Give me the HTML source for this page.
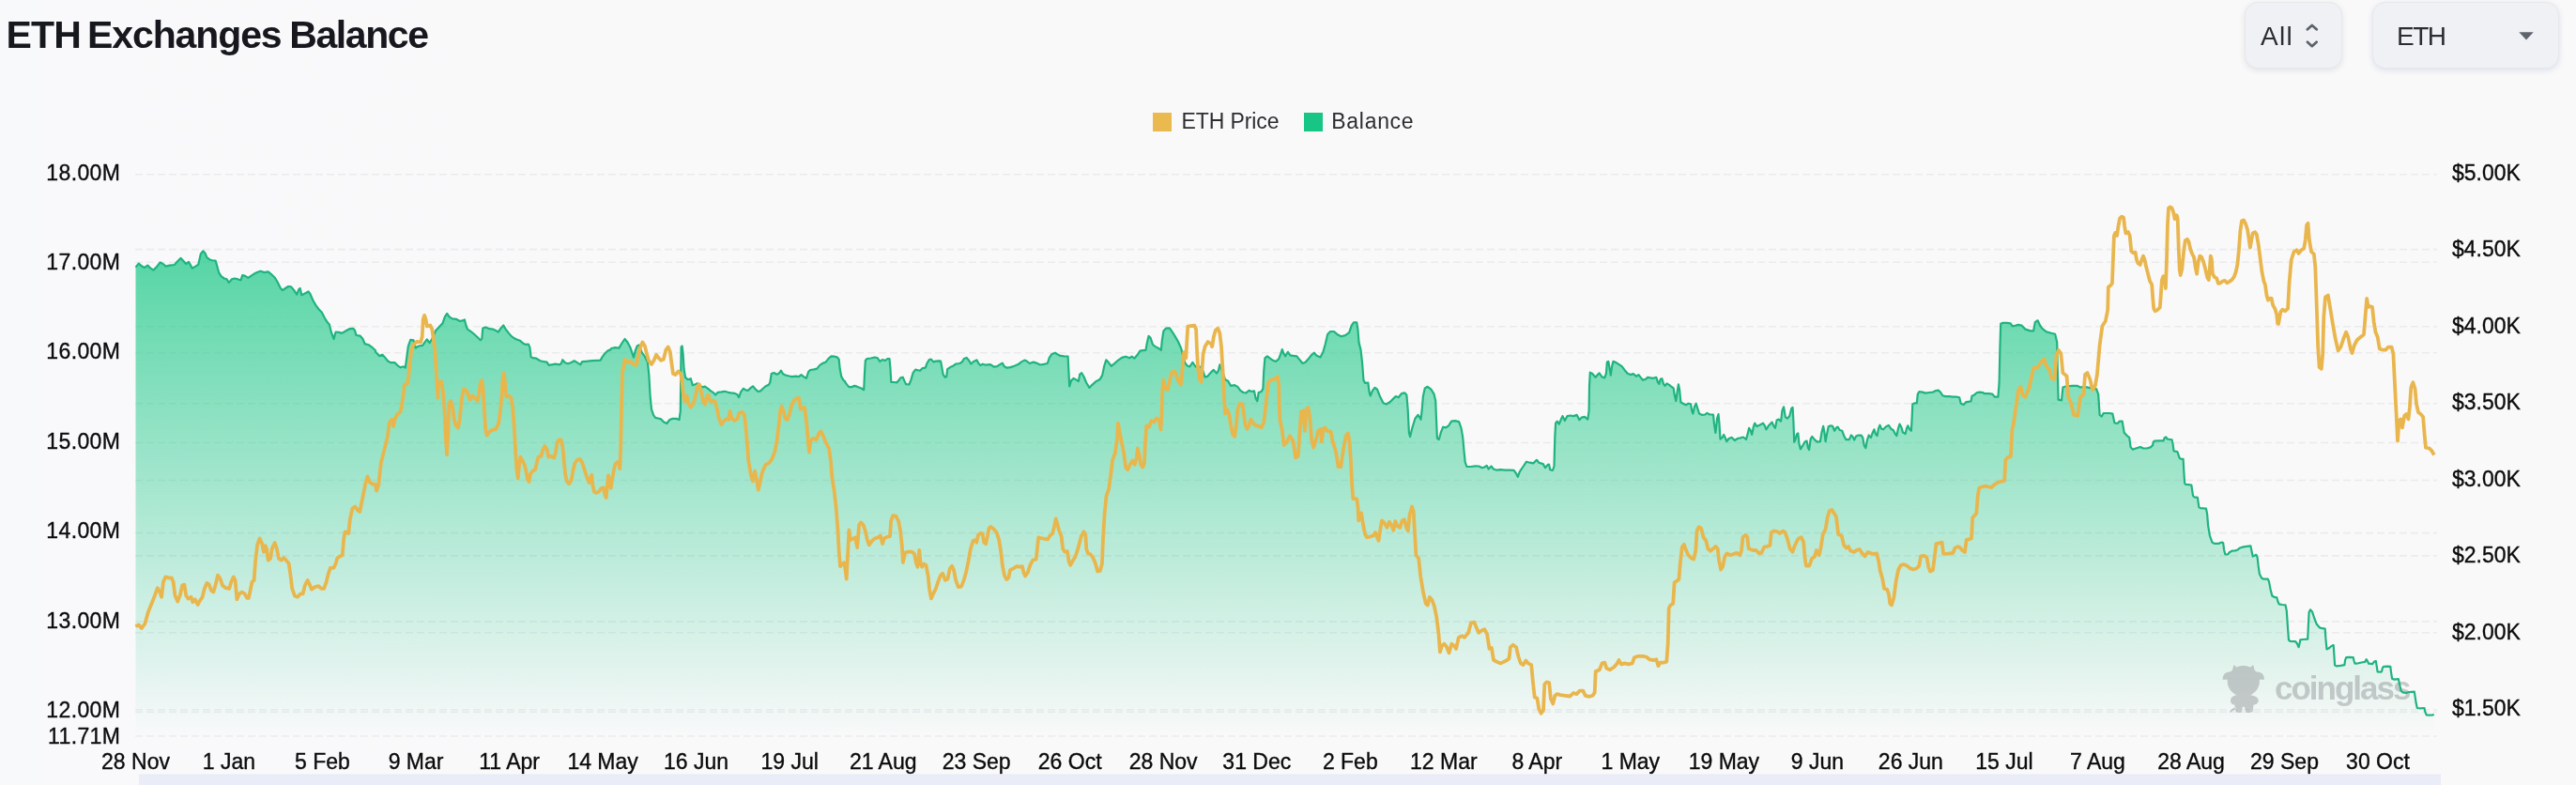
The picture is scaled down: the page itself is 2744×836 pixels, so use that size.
<!DOCTYPE html>
<html lang="en"><head><meta charset="utf-8"><title>ETH Exchanges Balance</title>
<style>
html,body{margin:0;padding:0}
body{width:2744px;height:836px;overflow:hidden;background:linear-gradient(90deg,#f8f9fb 0,#f8f9fb 1.7%,#f9f9fb 1.75%,#f9f9fa 20%,#f9f9f9 50%,#faf9f9 95%,#faf9f9 100%);position:relative;font-family:"Liberation Sans",sans-serif}
h1{position:absolute;left:0;top:12.8px;width:500px;height:48px;margin:0;font-size:41px;line-height:48px;font-weight:700;letter-spacing:0;color:#16181d;white-space:nowrap;will-change:transform}
h1 span{position:absolute;top:0}
.btn{position:absolute;top:2px;height:71px;box-sizing:border-box;border-radius:14px;background:#eff1f5;border:1px solid #e6e8ec;box-shadow:0 2px 6px rgba(60,70,90,.13);color:#2b2d33;font-size:28px}
.btn span{position:absolute;top:20px;line-height:32px;will-change:transform}
#b1{left:2390.5px;width:104.5px}
#b1 span{left:16px;letter-spacing:1.3px}
#b2{left:2526.5px;width:199.5px;box-shadow:0 2px 6px rgba(70,100,190,.17)}
#b2 span{left:25.5px;letter-spacing:-1.5px}
.btn svg{position:absolute}
svg.chart{position:absolute;left:0;top:0}
.ax text{font-size:23px;fill:#0b0b0c;stroke:#0b0b0c;stroke-width:.35px}
</style></head><body>
<h1><span style="left:6.4px;letter-spacing:-.8px">ETH</span> <span style="left:93.1px;letter-spacing:-1.12px">Exchanges</span> <span style="left:308.2px;letter-spacing:-1.4px">Balance</span></h1>
<div class="btn" id="b1"><span>All</span><svg style="left:64px;top:22px" width="16" height="28" viewBox="0 0 16 28"><path d="M1.9 6.3 L6.8 2 L11.7 6.3 M1.9 19.8 L6.8 24.2 L11.7 19.8" fill="none" stroke="#5d6168" stroke-width="2.7" stroke-linecap="round" stroke-linejoin="round"/></svg></div>
<div class="btn" id="b2"><span>ETH</span><svg style="left:155px;top:31px" width="16" height="9" viewBox="0 0 16 9"><path d="M0.3 0.3 H15.7 L8 8.6 Z" fill="#5f636b"/></svg></div>
<svg class="chart" width="2744" height="836" viewBox="0 0 2744 836">
<defs><linearGradient id="ga" gradientUnits="userSpaceOnUse" x1="0" y1="268" x2="0" y2="784.0"><stop offset="0" stop-color="#16c784" stop-opacity=".72"/><stop offset="1" stop-color="#16c784" stop-opacity="0"/></linearGradient></defs>
<g class="legend" font-size="23" fill="#2c2d30"><rect x="1228" y="120" width="20" height="20" fill="#eab950"/><text x="1258.5" y="137" letter-spacing="-0.1">ETH Price</text><rect x="1389" y="120" width="20" height="20" fill="#17c684"/><text x="1418.3" y="137" letter-spacing="0.7">Balance</text></g>

<g stroke="#ebebee" stroke-width="1.6" stroke-dasharray="8 4"><line x1="144.0" x2="2596.0" y1="185.7" y2="185.7"/><line x1="144.0" x2="2596.0" y1="265.6" y2="265.6"/><line x1="144.0" x2="2596.0" y1="279.3" y2="279.3"/><line x1="144.0" x2="2596.0" y1="347.8" y2="347.8"/><line x1="144.0" x2="2596.0" y1="375.8" y2="375.8"/><line x1="144.0" x2="2596.0" y1="429.7" y2="429.7"/><line x1="144.0" x2="2596.0" y1="471.5" y2="471.5"/><line x1="144.0" x2="2596.0" y1="511.5" y2="511.5"/><line x1="144.0" x2="2596.0" y1="567.6" y2="567.6"/><line x1="144.0" x2="2596.0" y1="591.9" y2="591.9"/><line x1="144.0" x2="2596.0" y1="661.9" y2="661.9"/><line x1="144.0" x2="2596.0" y1="673.8" y2="673.8"/><line x1="144.0" x2="2596.0" y1="755.7" y2="755.7"/><line x1="144.0" x2="2596.0" y1="758.3" y2="758.3"/><line x1="144.0" x2="2596.0" y1="784.0" y2="784.0"/></g>
<path d="M144.5,284.6 L147.7,280.6 L151.2,283.6 L153.9,285.0 L157.3,282.6 L160.4,285.7 L163.4,287.7 L166.5,284.6 L170.6,279.5 L173.6,281.0 L176.7,283.6 L180.7,282.6 L185.8,282.0 L188.9,278.5 L192.4,274.9 L195.0,277.5 L198.1,281.0 L201.1,278.9 L204.8,285.7 L208.3,283.6 L211.3,281.6 L213.8,270.4 L216.4,267.3 L218.4,269.4 L220.5,274.4 L223.5,276.5 L226.6,277.5 L229.6,277.5 L231.3,283.6 L233.3,290.7 L235.8,294.4 L238.8,296.5 L241.5,297.3 L243.9,300.9 L247.0,297.3 L250.0,296.5 L253.1,297.3 L256.5,298.5 L258.2,293.2 L261.2,293.8 L264.3,295.8 L267.3,293.8 L270.4,291.8 L274.5,289.7 L277.5,288.7 L281.6,290.1 L285.7,289.3 L288.7,291.8 L292.8,295.8 L295.9,300.9 L298.9,307.0 L301.0,309.1 L304.0,307.0 L307.1,305.0 L310.1,305.4 L313.2,309.1 L316.2,313.6 L318.3,308.1 L319.7,307.0 L321.3,314.2 L324.4,312.8 L328.5,310.5 L330.5,313.2 L333.6,320.3 L336.6,325.4 L339.7,329.5 L342.7,332.5 L345.8,338.6 L348.8,343.3 L350.9,345.8 L352.9,353.9 L355.6,361.0 L357.6,353.5 L361.1,353.9 L364.1,354.9 L368.2,352.5 L372.3,350.2 L376.3,349.8 L378.0,351.9 L379.4,357.0 L383.5,357.6 L386.5,361.0 L388.6,366.1 L392.6,367.2 L396.7,370.2 L400.0,373.3 L400.2,375.0 L404.3,379.1 L407.3,377.7 L410.4,381.1 L413.4,384.8 L416.5,386.2 L420.6,386.2 L423.6,389.3 L426.7,391.3 L429.7,390.3 L431.8,391.7 L433.2,381.1 L434.8,368.9 L437.3,361.8 L440.5,362.4 L442.6,370.5 L446.0,368.5 L450.1,367.9 L454.8,361.4 L457.6,365.2 L460.3,360.7 L463.8,352.6 L468.4,347.5 L471.5,344.4 L473.9,337.3 L476.2,333.9 L478.6,337.3 L481.7,339.4 L485.8,339.8 L489.8,342.0 L492.9,341.4 L494.9,340.4 L496.4,346.5 L498.0,350.6 L501.0,352.6 L504.1,355.0 L508.2,358.7 L511.8,362.2 L513.3,360.7 L514.3,349.5 L517.3,348.5 L521.4,350.2 L525.5,350.6 L528.5,352.2 L530.6,353.6 L533.6,349.5 L536.3,346.5 L538.7,350.6 L541.8,354.6 L544.8,358.1 L547.9,360.3 L551.0,361.8 L554.0,362.8 L557.5,365.8 L560.1,366.9 L562.8,366.5 L564.4,369.9 L565.6,380.1 L567.3,381.1 L571.3,381.7 L575.4,384.2 L579.5,385.2 L582.5,385.6 L584.6,388.9 L587.6,388.3 L591.7,387.6 L595.8,388.3 L597.8,387.2 L599.3,383.2 L601.9,386.2 L605.0,387.2 L608.0,386.2 L611.7,384.2 L614.1,385.6 L618.2,388.3 L620.2,385.2 L624.3,384.8 L630.4,384.2 L636.5,383.8 L639.6,383.6 L641.6,380.1 L644.7,376.0 L647.7,373.4 L650.0,372.6 L651.2,371.0 L655.3,370.2 L659.4,370.6 L662.4,365.5 L665.5,361.0 L668.5,364.4 L671.6,370.6 L673.6,376.7 L675.0,380.7 L676.7,373.6 L678.7,368.5 L680.7,367.5 L683.8,375.7 L686.9,379.7 L689.9,385.8 L691.3,399.1 L692.6,421.5 L694.0,435.8 L696.0,441.9 L698.1,444.9 L701.1,445.5 L704.2,446.4 L707.2,449.6 L710.3,451.0 L713.3,447.0 L716.4,445.9 L720.5,445.9 L723.5,447.0 L724.8,437.8 L725.2,401.1 L725.6,369.5 L726.6,368.5 L727.6,376.7 L728.6,393.0 L730.1,402.1 L732.7,404.2 L735.8,403.2 L737.8,410.3 L740.9,409.3 L742.9,408.3 L748.0,412.3 L751.0,411.7 L754.1,413.8 L757.2,416.4 L760.2,418.4 L762.2,420.5 L764.7,417.8 L768.4,417.4 L772.0,416.8 L775.5,417.8 L778.5,418.4 L782.6,418.9 L785.1,419.9 L787.1,423.1 L789.1,417.4 L791.8,413.8 L794.4,415.4 L796.9,415.8 L799.9,412.9 L802.0,411.3 L804.6,414.4 L807.5,417.0 L810.1,416.4 L812.8,413.8 L815.6,411.3 L818.9,409.7 L820.3,407.2 L821.7,398.1 L824.4,397.0 L827.4,398.7 L829.9,397.5 L831.9,394.6 L834.0,398.1 L836.6,399.5 L840.7,400.5 L843.7,401.1 L847.8,400.7 L850.9,401.1 L853.5,399.1 L856.0,401.1 L859.0,402.8 L861.1,396.0 L863.1,394.0 L867.2,393.4 L870.2,392.6 L873.3,388.9 L876.3,386.9 L879.4,385.8 L882.5,381.8 L885.5,379.3 L888.6,379.7 L891.6,380.3 L893.7,382.8 L894.7,393.0 L896.3,401.1 L898.4,404.8 L900.0,406.2 L901.2,408.4 L904.3,412.1 L907.3,412.1 L910.4,410.9 L913.4,411.9 L917.5,413.5 L920.2,415.2 L921.0,397.2 L921.8,384.0 L923.6,382.0 L927.7,381.5 L931.8,380.5 L934.8,381.3 L937.3,385.0 L939.9,383.0 L943.0,384.0 L945.4,382.0 L947.5,382.0 L948.5,393.2 L949.3,407.0 L952.1,407.0 L955.2,407.4 L957.2,405.4 L959.3,402.3 L961.7,401.7 L963.3,405.4 L965.0,409.1 L968.4,409.5 L970.5,404.4 L972.5,397.2 L975.2,393.6 L977.6,394.2 L980.1,394.8 L982.7,392.1 L985.8,391.7 L987.4,387.0 L989.8,383.0 L991.9,382.6 L994.3,385.4 L997.0,384.6 L1000.0,384.4 L1002.1,384.6 L1003.3,391.1 L1004.5,398.3 L1006.5,401.7 L1008.2,401.3 L1009.2,393.2 L1012.2,391.1 L1015.3,389.7 L1018.4,387.5 L1022.4,387.0 L1024.9,385.4 L1026.9,382.0 L1029.6,380.9 L1032.2,384.0 L1034.3,387.5 L1037.1,385.0 L1040.4,383.4 L1042.4,387.0 L1044.4,389.1 L1046.9,387.7 L1049.9,388.7 L1055.0,388.1 L1058.7,390.7 L1062.2,390.1 L1065.2,388.1 L1067.7,386.6 L1069.7,390.1 L1072.4,391.7 L1076.4,391.1 L1080.5,389.7 L1084.6,388.1 L1088.0,385.4 L1091.3,383.6 L1093.7,384.6 L1096.8,387.0 L1100.9,385.6 L1103.9,386.6 L1108.0,388.5 L1112.1,387.9 L1115.8,387.0 L1117.8,380.9 L1120.2,377.3 L1123.9,375.8 L1126.3,377.3 L1129.4,378.9 L1133.5,379.3 L1137.6,379.5 L1138.4,395.2 L1139.2,411.5 L1141.0,405.4 L1143.7,402.9 L1146.3,404.4 L1148.8,406.0 L1150.0,400.3 L1150.2,398.6 L1152.2,397.2 L1154.3,400.7 L1157.3,407.8 L1160.4,412.9 L1163.4,409.8 L1167.5,406.2 L1171.6,404.1 L1174.2,399.6 L1176.3,389.5 L1178.3,383.3 L1180.7,385.8 L1183.8,389.9 L1186.9,387.4 L1190.9,383.8 L1195.0,380.9 L1199.1,379.7 L1203.2,381.3 L1205.6,379.7 L1208.3,381.7 L1211.3,378.3 L1214.4,373.6 L1217.4,373.2 L1220.5,372.8 L1221.9,365.0 L1223.5,357.9 L1225.6,359.9 L1228.0,367.0 L1230.7,369.1 L1233.7,370.7 L1236.8,372.8 L1237.8,363.0 L1239.4,352.4 L1241.9,349.7 L1245.9,349.3 L1249.0,353.8 L1252.1,358.9 L1255.1,364.0 L1258.2,371.1 L1260.2,379.3 L1262.2,386.4 L1264.7,389.5 L1267.3,390.5 L1270.4,385.8 L1273.5,390.5 L1276.1,391.1 L1279.6,390.5 L1281.6,395.6 L1283.6,401.7 L1286.3,400.7 L1289.8,396.6 L1292.8,393.9 L1295.9,397.6 L1297.9,394.6 L1299.3,388.4 L1302.0,395.6 L1305.0,404.1 L1308.1,405.8 L1311.1,410.9 L1315.2,410.2 L1318.3,411.9 L1321.3,415.9 L1324.4,418.0 L1327.4,418.4 L1330.5,415.9 L1333.6,417.0 L1336.0,416.4 L1337.6,424.1 L1339.3,427.2 L1340.7,418.0 L1343.7,417.0 L1345.4,413.9 L1346.2,395.6 L1347.4,381.3 L1349.9,379.3 L1352.9,381.7 L1356.0,383.8 L1359.0,385.0 L1362.1,382.3 L1364.1,377.2 L1365.8,372.1 L1367.2,376.2 L1369.2,379.3 L1371.9,374.8 L1374.3,378.3 L1377.4,378.9 L1381.4,379.3 L1384.5,383.3 L1387.6,387.0 L1390.6,385.8 L1393.7,382.3 L1396.7,378.3 L1400.0,375.6 L1402.1,378.4 L1406.5,380.4 L1409.4,374.8 L1411.8,366.3 L1414.2,356.1 L1417.1,353.0 L1421.0,353.0 L1425.1,356.6 L1428.7,358.3 L1433.1,357.1 L1437.2,354.2 L1439.6,346.9 L1442.0,343.3 L1445.2,343.3 L1446.4,350.6 L1447.6,365.1 L1449.5,372.4 L1451.0,385.7 L1452.5,405.0 L1454.1,407.9 L1457.3,407.5 L1458.5,417.1 L1459.7,421.5 L1462.1,415.9 L1464.6,412.8 L1467.0,414.7 L1469.9,422.0 L1473.5,429.2 L1476.7,430.5 L1480.8,428.0 L1484.4,424.4 L1486.8,422.0 L1489.7,423.2 L1492.9,419.1 L1496.5,418.4 L1498.4,420.8 L1499.7,436.5 L1500.9,460.7 L1502.1,465.1 L1504.3,455.9 L1507.4,445.7 L1510.6,441.8 L1513.5,446.7 L1514.7,436.5 L1515.9,422.0 L1517.8,413.5 L1520.7,411.8 L1524.4,414.7 L1527.5,419.6 L1529.2,426.8 L1529.9,443.8 L1530.9,466.8 L1532.8,468.0 L1534.8,460.7 L1537.2,454.7 L1540.1,455.4 L1543.0,453.5 L1546.1,448.6 L1549.8,448.1 L1554.1,449.1 L1556.5,455.9 L1558.2,465.6 L1559.5,480.1 L1560.7,492.2 L1562.4,497.0 L1566.7,497.0 L1571.6,496.3 L1575.2,496.5 L1578.8,498.2 L1581.2,497.5 L1583.7,495.8 L1585.6,499.5 L1588.5,496.5 L1590.9,499.5 L1594.6,500.7 L1598.2,500.2 L1603.0,500.7 L1607.9,500.7 L1612.7,500.9 L1615.1,504.3 L1616.8,507.9 L1618.8,502.4 L1622.4,497.0 L1626.0,491.7 L1629.7,492.7 L1633.3,493.4 L1636.9,489.8 L1639.3,492.7 L1643.7,494.1 L1646.1,498.2 L1648.5,495.1 L1650.0,494.6 L1651.2,500.2 L1653.9,501.0 L1655.5,496.5 L1656.3,465.9 L1657.1,450.7 L1658.7,448.6 L1660.8,451.7 L1662.8,446.6 L1664.4,443.1 L1666.9,448.0 L1669.5,443.1 L1672.6,442.5 L1676.3,443.1 L1679.7,441.9 L1682.4,447.2 L1684.8,444.6 L1687.9,443.9 L1691.3,446.6 L1692.6,437.4 L1693.0,410.9 L1693.8,396.7 L1696.0,397.7 L1699.5,401.8 L1702.1,398.7 L1703.6,397.3 L1706.2,401.2 L1709.3,402.4 L1710.9,397.7 L1711.9,385.5 L1713.3,384.9 L1714.6,392.6 L1715.8,399.7 L1717.0,390.6 L1718.4,384.9 L1721.5,386.1 L1724.6,388.1 L1727.6,390.2 L1730.7,394.2 L1733.7,397.7 L1736.8,399.1 L1739.8,398.1 L1742.9,400.7 L1745.5,399.1 L1748.0,402.4 L1750.0,404.8 L1753.1,403.8 L1755.1,401.8 L1758.2,402.4 L1761.2,402.8 L1764.3,401.8 L1765.9,406.9 L1767.3,408.9 L1768.8,403.8 L1770.4,403.2 L1772.0,408.9 L1773.5,410.9 L1775.5,408.5 L1778.1,409.9 L1780.6,412.0 L1782.6,413.4 L1783.8,421.1 L1785.3,427.2 L1786.7,417.0 L1787.9,409.3 L1789.1,415.0 L1790.4,428.3 L1792.8,429.7 L1795.9,431.3 L1798.5,429.7 L1801.0,430.3 L1802.2,437.4 L1803.4,440.5 L1805.0,433.3 L1806.7,429.7 L1808.1,434.4 L1810.1,440.5 L1813.2,441.9 L1816.2,441.5 L1818.3,439.9 L1821.3,441.5 L1825.0,441.5 L1826.0,451.7 L1827.4,460.9 L1829.1,445.6 L1830.5,441.1 L1831.5,451.7 L1832.5,467.6 L1834.6,465.9 L1836.2,462.9 L1837.6,465.9 L1839.3,470.0 L1841.7,467.0 L1844.8,465.9 L1847.8,469.0 L1850.9,467.0 L1853.9,466.4 L1857.0,465.5 L1860.0,468.0 L1861.7,461.9 L1863.1,455.8 L1864.5,457.8 L1866.2,462.9 L1867.8,454.7 L1869.2,450.7 L1871.3,454.1 L1874.3,452.7 L1878.0,450.7 L1880.0,453.7 L1881.4,457.4 L1884.5,452.7 L1887.6,449.6 L1889.6,454.1 L1891.0,455.8 L1892.6,447.6 L1894.7,446.6 L1897.1,448.6 L1898.4,437.4 L1900.0,433.3 L1900.2,433.9 L1901.8,444.1 L1903.9,445.7 L1906.3,443.1 L1908.3,434.9 L1909.6,433.9 L1910.4,448.2 L1911.2,470.6 L1912.4,468.5 L1914.0,462.4 L1915.3,461.4 L1916.5,472.6 L1917.9,478.3 L1920.2,474.7 L1922.6,470.6 L1924.6,469.6 L1925.9,476.7 L1927.1,479.1 L1928.7,467.5 L1930.3,464.9 L1932.8,468.1 L1935.8,470.6 L1938.9,470.2 L1940.5,460.4 L1942.2,453.9 L1943.4,460.4 L1944.6,470.2 L1946.0,462.4 L1947.7,454.3 L1950.1,453.3 L1952.1,453.9 L1954.2,458.8 L1956.2,455.3 L1957.6,454.7 L1959.7,458.0 L1962.3,458.8 L1964.4,464.5 L1966.4,468.1 L1969.9,468.1 L1971.9,463.5 L1973.5,464.9 L1975.2,468.5 L1977.2,464.5 L1979.6,463.5 L1982.7,463.7 L1984.3,466.1 L1985.8,474.7 L1987.4,477.1 L1989.0,468.5 L1990.7,463.5 L1992.9,466.1 L1994.9,460.4 L1996.4,457.3 L1998.0,462.4 L1999.6,464.1 L2001.0,456.3 L2002.5,452.7 L2004.1,456.7 L2006.1,457.3 L2009.2,454.3 L2011.8,452.9 L2014.3,456.7 L2016.7,458.0 L2018.8,462.0 L2020.4,464.1 L2022.0,456.3 L2023.5,451.6 L2025.5,455.3 L2026.9,460.4 L2029.6,462.0 L2031.0,456.3 L2032.2,453.3 L2034.3,457.3 L2035.9,458.8 L2036.7,444.1 L2037.3,430.2 L2039.8,429.4 L2041.8,429.4 L2042.8,419.6 L2044.4,417.2 L2047.9,417.6 L2051.0,418.6 L2055.0,418.0 L2059.1,417.6 L2062.2,416.0 L2064.8,415.6 L2067.3,418.0 L2069.3,421.3 L2072.4,422.1 L2076.4,422.1 L2080.5,422.7 L2084.6,422.7 L2087.2,423.3 L2088.7,429.8 L2091.7,430.9 L2094.2,428.2 L2096.8,427.8 L2099.5,427.4 L2100.5,421.7 L2102.9,420.7 L2106.0,418.0 L2109.0,417.6 L2112.1,418.0 L2114.1,419.2 L2118.2,419.2 L2122.3,419.6 L2124.7,422.7 L2128.4,422.7 L2129.6,407.4 L2130.4,370.7 L2131.2,344.7 L2133.5,343.9 L2137.6,343.9 L2141.6,344.3 L2143.7,347.3 L2146.7,346.9 L2150.0,345.9 L2153.4,346.5 L2157.5,350.6 L2162.7,352.4 L2166.1,352.4 L2167.8,343.1 L2170.6,341.3 L2173.0,346.5 L2175.4,349.9 L2179.9,353.4 L2185.0,354.8 L2189.1,355.8 L2191.2,364.4 L2191.9,398.8 L2192.6,425.6 L2196.0,426.3 L2197.4,412.5 L2200.5,411.5 L2207.4,410.8 L2212.5,410.8 L2216.0,412.5 L2220.1,411.8 L2233.2,414.3 L2235.2,420.1 L2236.6,441.8 L2238.7,443.5 L2240.7,440.0 L2246.9,440.0 L2250.4,440.7 L2252.4,450.4 L2255.5,451.0 L2257.9,448.6 L2260.7,448.6 L2262.7,460.7 L2265.8,464.1 L2268.2,465.8 L2269.6,476.1 L2271.7,478.6 L2276.1,477.2 L2279.6,476.1 L2280.0,475.9 L2283.1,477.5 L2286.9,477.5 L2290.7,476.4 L2293.0,474.4 L2293.8,470.6 L2295.3,469.5 L2299.9,469.4 L2304.5,469.4 L2305.7,466.3 L2307.2,465.5 L2308.7,467.5 L2311.3,468.0 L2313.6,468.4 L2314.6,472.9 L2315.5,480.1 L2316.7,480.7 L2319.4,481.0 L2320.5,484.3 L2321.6,487.7 L2322.8,488.6 L2325.6,488.9 L2326.3,501.2 L2327.1,514.2 L2328.2,516.0 L2331.2,516.1 L2334.3,516.5 L2335.0,521.0 L2336.0,527.9 L2337.3,529.4 L2340.9,529.9 L2341.6,534.8 L2342.4,540.2 L2343.9,541.2 L2347.3,541.4 L2350.0,541.7 L2351.1,547.1 L2352.1,559.6 L2353.9,570.3 L2356.4,577.5 L2358.7,578.9 L2363.2,578.9 L2366.8,577.5 L2368.2,578.3 L2369.1,585.5 L2370.3,590.3 L2373.0,590.5 L2374.8,588.2 L2377.5,586.7 L2381.0,586.4 L2383.7,585.5 L2385.5,583.7 L2389.9,582.4 L2393.5,581.9 L2397.4,581.4 L2398.5,586.7 L2399.7,592.6 L2401.5,591.7 L2403.3,590.8 L2404.6,593.5 L2405.6,602.4 L2406.9,611.3 L2409.2,615.8 L2411.3,616.7 L2415.8,616.7 L2417.0,619.4 L2418.5,627.4 L2420.3,634.5 L2422.4,635.8 L2425.3,636.3 L2426.5,640.8 L2427.7,643.4 L2431.0,644.0 L2434.5,644.3 L2435.8,650.6 L2436.8,665.7 L2438.0,681.7 L2439.8,683.0 L2445.2,683.2 L2446.9,685.3 L2448.6,689.2 L2449.6,685.3 L2450.3,681.4 L2453.2,681.0 L2458.2,680.7 L2458.9,665.7 L2459.6,652.3 L2461.0,649.3 L2463.0,651.4 L2465.3,658.5 L2467.8,664.8 L2471.0,668.4 L2473.7,669.2 L2476.7,669.6 L2477.4,679.9 L2478.5,691.5 L2480.8,690.3 L2483.5,688.0 L2485.7,687.1 L2486.4,697.8 L2487.1,708.5 L2489.2,709.4 L2493.3,708.8 L2497.4,708.1 L2498.1,703.1 L2499.2,700.1 L2502.2,699.9 L2506.7,700.1 L2507.6,704.0 L2508.5,706.7 L2512.1,706.3 L2515.6,705.5 L2519.2,704.9 L2520.6,702.2 L2521.9,704.0 L2523.1,706.7 L2527.2,707.1 L2529.0,704.6 L2530.8,704.0 L2531.7,709.4 L2532.6,715.3 L2535.2,715.6 L2537.0,715.3 L2537.9,711.2 L2539.2,709.9 L2543.3,709.7 L2546.3,709.9 L2547.0,715.6 L2548.1,722.8 L2550.4,723.6 L2554.9,723.1 L2555.9,728.1 L2557.5,735.2 L2559.3,737.4 L2562.9,737.9 L2566.5,737.0 L2571.8,736.7 L2572.7,742.4 L2573.6,748.6 L2574.8,754.0 L2578.1,754.3 L2582.5,754.0 L2583.4,758.4 L2584.8,761.5 L2587.9,761.6 L2591.4,761.5 L2592.7,760.8 L2592.7,784.0 L144.5,784.0 Z" fill="url(#ga)"/>
<g class="wm" fill="#909497" opacity=".47"><g transform="translate(2355,700) scale(0.0892)"><ellipse cx="390" cy="285" rx="192" ry="185"/><path d="M255,170 L272,92 Q300,100 312,130 L300,170 Z M525,170 L508,92 Q480,100 468,130 L480,170 Z M140,265 Q140,175 235,170 L262,265 Z M640,265 Q640,175 545,170 L518,265 Z M235,520 Q235,470 300,452 L480,452 Q570,470 570,520 Q560,560 510,570 L500,650 Q460,672 420,655 L402,590 L378,590 L370,655 Q330,672 300,650 L285,570 Q240,560 235,520 Z M292,598 Q250,610 218,655 L240,657 Q270,628 302,616 Z"/></g><text x="2423" y="745.2" font-size="35" font-weight="700" letter-spacing="-2">coinglass</text></g>
<path d="M144.5,284.6 L147.7,280.6 L151.2,283.6 L153.9,285.0 L157.3,282.6 L160.4,285.7 L163.4,287.7 L166.5,284.6 L170.6,279.5 L173.6,281.0 L176.7,283.6 L180.7,282.6 L185.8,282.0 L188.9,278.5 L192.4,274.9 L195.0,277.5 L198.1,281.0 L201.1,278.9 L204.8,285.7 L208.3,283.6 L211.3,281.6 L213.8,270.4 L216.4,267.3 L218.4,269.4 L220.5,274.4 L223.5,276.5 L226.6,277.5 L229.6,277.5 L231.3,283.6 L233.3,290.7 L235.8,294.4 L238.8,296.5 L241.5,297.3 L243.9,300.9 L247.0,297.3 L250.0,296.5 L253.1,297.3 L256.5,298.5 L258.2,293.2 L261.2,293.8 L264.3,295.8 L267.3,293.8 L270.4,291.8 L274.5,289.7 L277.5,288.7 L281.6,290.1 L285.7,289.3 L288.7,291.8 L292.8,295.8 L295.9,300.9 L298.9,307.0 L301.0,309.1 L304.0,307.0 L307.1,305.0 L310.1,305.4 L313.2,309.1 L316.2,313.6 L318.3,308.1 L319.7,307.0 L321.3,314.2 L324.4,312.8 L328.5,310.5 L330.5,313.2 L333.6,320.3 L336.6,325.4 L339.7,329.5 L342.7,332.5 L345.8,338.6 L348.8,343.3 L350.9,345.8 L352.9,353.9 L355.6,361.0 L357.6,353.5 L361.1,353.9 L364.1,354.9 L368.2,352.5 L372.3,350.2 L376.3,349.8 L378.0,351.9 L379.4,357.0 L383.5,357.6 L386.5,361.0 L388.6,366.1 L392.6,367.2 L396.7,370.2 L400.0,373.3 L400.2,375.0 L404.3,379.1 L407.3,377.7 L410.4,381.1 L413.4,384.8 L416.5,386.2 L420.6,386.2 L423.6,389.3 L426.7,391.3 L429.7,390.3 L431.8,391.7 L433.2,381.1 L434.8,368.9 L437.3,361.8 L440.5,362.4 L442.6,370.5 L446.0,368.5 L450.1,367.9 L454.8,361.4 L457.6,365.2 L460.3,360.7 L463.8,352.6 L468.4,347.5 L471.5,344.4 L473.9,337.3 L476.2,333.9 L478.6,337.3 L481.7,339.4 L485.8,339.8 L489.8,342.0 L492.9,341.4 L494.9,340.4 L496.4,346.5 L498.0,350.6 L501.0,352.6 L504.1,355.0 L508.2,358.7 L511.8,362.2 L513.3,360.7 L514.3,349.5 L517.3,348.5 L521.4,350.2 L525.5,350.6 L528.5,352.2 L530.6,353.6 L533.6,349.5 L536.3,346.5 L538.7,350.6 L541.8,354.6 L544.8,358.1 L547.9,360.3 L551.0,361.8 L554.0,362.8 L557.5,365.8 L560.1,366.9 L562.8,366.5 L564.4,369.9 L565.6,380.1 L567.3,381.1 L571.3,381.7 L575.4,384.2 L579.5,385.2 L582.5,385.6 L584.6,388.9 L587.6,388.3 L591.7,387.6 L595.8,388.3 L597.8,387.2 L599.3,383.2 L601.9,386.2 L605.0,387.2 L608.0,386.2 L611.7,384.2 L614.1,385.6 L618.2,388.3 L620.2,385.2 L624.3,384.8 L630.4,384.2 L636.5,383.8 L639.6,383.6 L641.6,380.1 L644.7,376.0 L647.7,373.4 L650.0,372.6 L651.2,371.0 L655.3,370.2 L659.4,370.6 L662.4,365.5 L665.5,361.0 L668.5,364.4 L671.6,370.6 L673.6,376.7 L675.0,380.7 L676.7,373.6 L678.7,368.5 L680.7,367.5 L683.8,375.7 L686.9,379.7 L689.9,385.8 L691.3,399.1 L692.6,421.5 L694.0,435.8 L696.0,441.9 L698.1,444.9 L701.1,445.5 L704.2,446.4 L707.2,449.6 L710.3,451.0 L713.3,447.0 L716.4,445.9 L720.5,445.9 L723.5,447.0 L724.8,437.8 L725.2,401.1 L725.6,369.5 L726.6,368.5 L727.6,376.7 L728.6,393.0 L730.1,402.1 L732.7,404.2 L735.8,403.2 L737.8,410.3 L740.9,409.3 L742.9,408.3 L748.0,412.3 L751.0,411.7 L754.1,413.8 L757.2,416.4 L760.2,418.4 L762.2,420.5 L764.7,417.8 L768.4,417.4 L772.0,416.8 L775.5,417.8 L778.5,418.4 L782.6,418.9 L785.1,419.9 L787.1,423.1 L789.1,417.4 L791.8,413.8 L794.4,415.4 L796.9,415.8 L799.9,412.9 L802.0,411.3 L804.6,414.4 L807.5,417.0 L810.1,416.4 L812.8,413.8 L815.6,411.3 L818.9,409.7 L820.3,407.2 L821.7,398.1 L824.4,397.0 L827.4,398.7 L829.9,397.5 L831.9,394.6 L834.0,398.1 L836.6,399.5 L840.7,400.5 L843.7,401.1 L847.8,400.7 L850.9,401.1 L853.5,399.1 L856.0,401.1 L859.0,402.8 L861.1,396.0 L863.1,394.0 L867.2,393.4 L870.2,392.6 L873.3,388.9 L876.3,386.9 L879.4,385.8 L882.5,381.8 L885.5,379.3 L888.6,379.7 L891.6,380.3 L893.7,382.8 L894.7,393.0 L896.3,401.1 L898.4,404.8 L900.0,406.2 L901.2,408.4 L904.3,412.1 L907.3,412.1 L910.4,410.9 L913.4,411.9 L917.5,413.5 L920.2,415.2 L921.0,397.2 L921.8,384.0 L923.6,382.0 L927.7,381.5 L931.8,380.5 L934.8,381.3 L937.3,385.0 L939.9,383.0 L943.0,384.0 L945.4,382.0 L947.5,382.0 L948.5,393.2 L949.3,407.0 L952.1,407.0 L955.2,407.4 L957.2,405.4 L959.3,402.3 L961.7,401.7 L963.3,405.4 L965.0,409.1 L968.4,409.5 L970.5,404.4 L972.5,397.2 L975.2,393.6 L977.6,394.2 L980.1,394.8 L982.7,392.1 L985.8,391.7 L987.4,387.0 L989.8,383.0 L991.9,382.6 L994.3,385.4 L997.0,384.6 L1000.0,384.4 L1002.1,384.6 L1003.3,391.1 L1004.5,398.3 L1006.5,401.7 L1008.2,401.3 L1009.2,393.2 L1012.2,391.1 L1015.3,389.7 L1018.4,387.5 L1022.4,387.0 L1024.9,385.4 L1026.9,382.0 L1029.6,380.9 L1032.2,384.0 L1034.3,387.5 L1037.1,385.0 L1040.4,383.4 L1042.4,387.0 L1044.4,389.1 L1046.9,387.7 L1049.9,388.7 L1055.0,388.1 L1058.7,390.7 L1062.2,390.1 L1065.2,388.1 L1067.7,386.6 L1069.7,390.1 L1072.4,391.7 L1076.4,391.1 L1080.5,389.7 L1084.6,388.1 L1088.0,385.4 L1091.3,383.6 L1093.7,384.6 L1096.8,387.0 L1100.9,385.6 L1103.9,386.6 L1108.0,388.5 L1112.1,387.9 L1115.8,387.0 L1117.8,380.9 L1120.2,377.3 L1123.9,375.8 L1126.3,377.3 L1129.4,378.9 L1133.5,379.3 L1137.6,379.5 L1138.4,395.2 L1139.2,411.5 L1141.0,405.4 L1143.7,402.9 L1146.3,404.4 L1148.8,406.0 L1150.0,400.3 L1150.2,398.6 L1152.2,397.2 L1154.3,400.7 L1157.3,407.8 L1160.4,412.9 L1163.4,409.8 L1167.5,406.2 L1171.6,404.1 L1174.2,399.6 L1176.3,389.5 L1178.3,383.3 L1180.7,385.8 L1183.8,389.9 L1186.9,387.4 L1190.9,383.8 L1195.0,380.9 L1199.1,379.7 L1203.2,381.3 L1205.6,379.7 L1208.3,381.7 L1211.3,378.3 L1214.4,373.6 L1217.4,373.2 L1220.5,372.8 L1221.9,365.0 L1223.5,357.9 L1225.6,359.9 L1228.0,367.0 L1230.7,369.1 L1233.7,370.7 L1236.8,372.8 L1237.8,363.0 L1239.4,352.4 L1241.9,349.7 L1245.9,349.3 L1249.0,353.8 L1252.1,358.9 L1255.1,364.0 L1258.2,371.1 L1260.2,379.3 L1262.2,386.4 L1264.7,389.5 L1267.3,390.5 L1270.4,385.8 L1273.5,390.5 L1276.1,391.1 L1279.6,390.5 L1281.6,395.6 L1283.6,401.7 L1286.3,400.7 L1289.8,396.6 L1292.8,393.9 L1295.9,397.6 L1297.9,394.6 L1299.3,388.4 L1302.0,395.6 L1305.0,404.1 L1308.1,405.8 L1311.1,410.9 L1315.2,410.2 L1318.3,411.9 L1321.3,415.9 L1324.4,418.0 L1327.4,418.4 L1330.5,415.9 L1333.6,417.0 L1336.0,416.4 L1337.6,424.1 L1339.3,427.2 L1340.7,418.0 L1343.7,417.0 L1345.4,413.9 L1346.2,395.6 L1347.4,381.3 L1349.9,379.3 L1352.9,381.7 L1356.0,383.8 L1359.0,385.0 L1362.1,382.3 L1364.1,377.2 L1365.8,372.1 L1367.2,376.2 L1369.2,379.3 L1371.9,374.8 L1374.3,378.3 L1377.4,378.9 L1381.4,379.3 L1384.5,383.3 L1387.6,387.0 L1390.6,385.8 L1393.7,382.3 L1396.7,378.3 L1400.0,375.6 L1402.1,378.4 L1406.5,380.4 L1409.4,374.8 L1411.8,366.3 L1414.2,356.1 L1417.1,353.0 L1421.0,353.0 L1425.1,356.6 L1428.7,358.3 L1433.1,357.1 L1437.2,354.2 L1439.6,346.9 L1442.0,343.3 L1445.2,343.3 L1446.4,350.6 L1447.6,365.1 L1449.5,372.4 L1451.0,385.7 L1452.5,405.0 L1454.1,407.9 L1457.3,407.5 L1458.5,417.1 L1459.7,421.5 L1462.1,415.9 L1464.6,412.8 L1467.0,414.7 L1469.9,422.0 L1473.5,429.2 L1476.7,430.5 L1480.8,428.0 L1484.4,424.4 L1486.8,422.0 L1489.7,423.2 L1492.9,419.1 L1496.5,418.4 L1498.4,420.8 L1499.7,436.5 L1500.9,460.7 L1502.1,465.1 L1504.3,455.9 L1507.4,445.7 L1510.6,441.8 L1513.5,446.7 L1514.7,436.5 L1515.9,422.0 L1517.8,413.5 L1520.7,411.8 L1524.4,414.7 L1527.5,419.6 L1529.2,426.8 L1529.9,443.8 L1530.9,466.8 L1532.8,468.0 L1534.8,460.7 L1537.2,454.7 L1540.1,455.4 L1543.0,453.5 L1546.1,448.6 L1549.8,448.1 L1554.1,449.1 L1556.5,455.9 L1558.2,465.6 L1559.5,480.1 L1560.7,492.2 L1562.4,497.0 L1566.7,497.0 L1571.6,496.3 L1575.2,496.5 L1578.8,498.2 L1581.2,497.5 L1583.7,495.8 L1585.6,499.5 L1588.5,496.5 L1590.9,499.5 L1594.6,500.7 L1598.2,500.2 L1603.0,500.7 L1607.9,500.7 L1612.7,500.9 L1615.1,504.3 L1616.8,507.9 L1618.8,502.4 L1622.4,497.0 L1626.0,491.7 L1629.7,492.7 L1633.3,493.4 L1636.9,489.8 L1639.3,492.7 L1643.7,494.1 L1646.1,498.2 L1648.5,495.1 L1650.0,494.6 L1651.2,500.2 L1653.9,501.0 L1655.5,496.5 L1656.3,465.9 L1657.1,450.7 L1658.7,448.6 L1660.8,451.7 L1662.8,446.6 L1664.4,443.1 L1666.9,448.0 L1669.5,443.1 L1672.6,442.5 L1676.3,443.1 L1679.7,441.9 L1682.4,447.2 L1684.8,444.6 L1687.9,443.9 L1691.3,446.6 L1692.6,437.4 L1693.0,410.9 L1693.8,396.7 L1696.0,397.7 L1699.5,401.8 L1702.1,398.7 L1703.6,397.3 L1706.2,401.2 L1709.3,402.4 L1710.9,397.7 L1711.9,385.5 L1713.3,384.9 L1714.6,392.6 L1715.8,399.7 L1717.0,390.6 L1718.4,384.9 L1721.5,386.1 L1724.6,388.1 L1727.6,390.2 L1730.7,394.2 L1733.7,397.7 L1736.8,399.1 L1739.8,398.1 L1742.9,400.7 L1745.5,399.1 L1748.0,402.4 L1750.0,404.8 L1753.1,403.8 L1755.1,401.8 L1758.2,402.4 L1761.2,402.8 L1764.3,401.8 L1765.9,406.9 L1767.3,408.9 L1768.8,403.8 L1770.4,403.2 L1772.0,408.9 L1773.5,410.9 L1775.5,408.5 L1778.1,409.9 L1780.6,412.0 L1782.6,413.4 L1783.8,421.1 L1785.3,427.2 L1786.7,417.0 L1787.9,409.3 L1789.1,415.0 L1790.4,428.3 L1792.8,429.7 L1795.9,431.3 L1798.5,429.7 L1801.0,430.3 L1802.2,437.4 L1803.4,440.5 L1805.0,433.3 L1806.7,429.7 L1808.1,434.4 L1810.1,440.5 L1813.2,441.9 L1816.2,441.5 L1818.3,439.9 L1821.3,441.5 L1825.0,441.5 L1826.0,451.7 L1827.4,460.9 L1829.1,445.6 L1830.5,441.1 L1831.5,451.7 L1832.5,467.6 L1834.6,465.9 L1836.2,462.9 L1837.6,465.9 L1839.3,470.0 L1841.7,467.0 L1844.8,465.9 L1847.8,469.0 L1850.9,467.0 L1853.9,466.4 L1857.0,465.5 L1860.0,468.0 L1861.7,461.9 L1863.1,455.8 L1864.5,457.8 L1866.2,462.9 L1867.8,454.7 L1869.2,450.7 L1871.3,454.1 L1874.3,452.7 L1878.0,450.7 L1880.0,453.7 L1881.4,457.4 L1884.5,452.7 L1887.6,449.6 L1889.6,454.1 L1891.0,455.8 L1892.6,447.6 L1894.7,446.6 L1897.1,448.6 L1898.4,437.4 L1900.0,433.3 L1900.2,433.9 L1901.8,444.1 L1903.9,445.7 L1906.3,443.1 L1908.3,434.9 L1909.6,433.9 L1910.4,448.2 L1911.2,470.6 L1912.4,468.5 L1914.0,462.4 L1915.3,461.4 L1916.5,472.6 L1917.9,478.3 L1920.2,474.7 L1922.6,470.6 L1924.6,469.6 L1925.9,476.7 L1927.1,479.1 L1928.7,467.5 L1930.3,464.9 L1932.8,468.1 L1935.8,470.6 L1938.9,470.2 L1940.5,460.4 L1942.2,453.9 L1943.4,460.4 L1944.6,470.2 L1946.0,462.4 L1947.7,454.3 L1950.1,453.3 L1952.1,453.9 L1954.2,458.8 L1956.2,455.3 L1957.6,454.7 L1959.7,458.0 L1962.3,458.8 L1964.4,464.5 L1966.4,468.1 L1969.9,468.1 L1971.9,463.5 L1973.5,464.9 L1975.2,468.5 L1977.2,464.5 L1979.6,463.5 L1982.7,463.7 L1984.3,466.1 L1985.8,474.7 L1987.4,477.1 L1989.0,468.5 L1990.7,463.5 L1992.9,466.1 L1994.9,460.4 L1996.4,457.3 L1998.0,462.4 L1999.6,464.1 L2001.0,456.3 L2002.5,452.7 L2004.1,456.7 L2006.1,457.3 L2009.2,454.3 L2011.8,452.9 L2014.3,456.7 L2016.7,458.0 L2018.8,462.0 L2020.4,464.1 L2022.0,456.3 L2023.5,451.6 L2025.5,455.3 L2026.9,460.4 L2029.6,462.0 L2031.0,456.3 L2032.2,453.3 L2034.3,457.3 L2035.9,458.8 L2036.7,444.1 L2037.3,430.2 L2039.8,429.4 L2041.8,429.4 L2042.8,419.6 L2044.4,417.2 L2047.9,417.6 L2051.0,418.6 L2055.0,418.0 L2059.1,417.6 L2062.2,416.0 L2064.8,415.6 L2067.3,418.0 L2069.3,421.3 L2072.4,422.1 L2076.4,422.1 L2080.5,422.7 L2084.6,422.7 L2087.2,423.3 L2088.7,429.8 L2091.7,430.9 L2094.2,428.2 L2096.8,427.8 L2099.5,427.4 L2100.5,421.7 L2102.9,420.7 L2106.0,418.0 L2109.0,417.6 L2112.1,418.0 L2114.1,419.2 L2118.2,419.2 L2122.3,419.6 L2124.7,422.7 L2128.4,422.7 L2129.6,407.4 L2130.4,370.7 L2131.2,344.7 L2133.5,343.9 L2137.6,343.9 L2141.6,344.3 L2143.7,347.3 L2146.7,346.9 L2150.0,345.9 L2153.4,346.5 L2157.5,350.6 L2162.7,352.4 L2166.1,352.4 L2167.8,343.1 L2170.6,341.3 L2173.0,346.5 L2175.4,349.9 L2179.9,353.4 L2185.0,354.8 L2189.1,355.8 L2191.2,364.4 L2191.9,398.8 L2192.6,425.6 L2196.0,426.3 L2197.4,412.5 L2200.5,411.5 L2207.4,410.8 L2212.5,410.8 L2216.0,412.5 L2220.1,411.8 L2233.2,414.3 L2235.2,420.1 L2236.6,441.8 L2238.7,443.5 L2240.7,440.0 L2246.9,440.0 L2250.4,440.7 L2252.4,450.4 L2255.5,451.0 L2257.9,448.6 L2260.7,448.6 L2262.7,460.7 L2265.8,464.1 L2268.2,465.8 L2269.6,476.1 L2271.7,478.6 L2276.1,477.2 L2279.6,476.1 L2280.0,475.9 L2283.1,477.5 L2286.9,477.5 L2290.7,476.4 L2293.0,474.4 L2293.8,470.6 L2295.3,469.5 L2299.9,469.4 L2304.5,469.4 L2305.7,466.3 L2307.2,465.5 L2308.7,467.5 L2311.3,468.0 L2313.6,468.4 L2314.6,472.9 L2315.5,480.1 L2316.7,480.7 L2319.4,481.0 L2320.5,484.3 L2321.6,487.7 L2322.8,488.6 L2325.6,488.9 L2326.3,501.2 L2327.1,514.2 L2328.2,516.0 L2331.2,516.1 L2334.3,516.5 L2335.0,521.0 L2336.0,527.9 L2337.3,529.4 L2340.9,529.9 L2341.6,534.8 L2342.4,540.2 L2343.9,541.2 L2347.3,541.4 L2350.0,541.7 L2351.1,547.1 L2352.1,559.6 L2353.9,570.3 L2356.4,577.5 L2358.7,578.9 L2363.2,578.9 L2366.8,577.5 L2368.2,578.3 L2369.1,585.5 L2370.3,590.3 L2373.0,590.5 L2374.8,588.2 L2377.5,586.7 L2381.0,586.4 L2383.7,585.5 L2385.5,583.7 L2389.9,582.4 L2393.5,581.9 L2397.4,581.4 L2398.5,586.7 L2399.7,592.6 L2401.5,591.7 L2403.3,590.8 L2404.6,593.5 L2405.6,602.4 L2406.9,611.3 L2409.2,615.8 L2411.3,616.7 L2415.8,616.7 L2417.0,619.4 L2418.5,627.4 L2420.3,634.5 L2422.4,635.8 L2425.3,636.3 L2426.5,640.8 L2427.7,643.4 L2431.0,644.0 L2434.5,644.3 L2435.8,650.6 L2436.8,665.7 L2438.0,681.7 L2439.8,683.0 L2445.2,683.2 L2446.9,685.3 L2448.6,689.2 L2449.6,685.3 L2450.3,681.4 L2453.2,681.0 L2458.2,680.7 L2458.9,665.7 L2459.6,652.3 L2461.0,649.3 L2463.0,651.4 L2465.3,658.5 L2467.8,664.8 L2471.0,668.4 L2473.7,669.2 L2476.7,669.6 L2477.4,679.9 L2478.5,691.5 L2480.8,690.3 L2483.5,688.0 L2485.7,687.1 L2486.4,697.8 L2487.1,708.5 L2489.2,709.4 L2493.3,708.8 L2497.4,708.1 L2498.1,703.1 L2499.2,700.1 L2502.2,699.9 L2506.7,700.1 L2507.6,704.0 L2508.5,706.7 L2512.1,706.3 L2515.6,705.5 L2519.2,704.9 L2520.6,702.2 L2521.9,704.0 L2523.1,706.7 L2527.2,707.1 L2529.0,704.6 L2530.8,704.0 L2531.7,709.4 L2532.6,715.3 L2535.2,715.6 L2537.0,715.3 L2537.9,711.2 L2539.2,709.9 L2543.3,709.7 L2546.3,709.9 L2547.0,715.6 L2548.1,722.8 L2550.4,723.6 L2554.9,723.1 L2555.9,728.1 L2557.5,735.2 L2559.3,737.4 L2562.9,737.9 L2566.5,737.0 L2571.8,736.7 L2572.7,742.4 L2573.6,748.6 L2574.8,754.0 L2578.1,754.3 L2582.5,754.0 L2583.4,758.4 L2584.8,761.5 L2587.9,761.6 L2591.4,761.5 L2592.7,760.8" fill="none" stroke="#20b380" stroke-width="2.2" stroke-linejoin="round"/>

<path d="M144.3,666.9 L147.8,665.5 L150.7,669.0 L154.3,664.4 L157.8,651.9 L160.7,644.8 L164.3,635.8 L167.8,626.2 L170.3,630.5 L172.1,635.8 L173.9,619.8 L176.4,614.4 L180.0,615.5 L182.8,615.5 L184.6,619.8 L186.4,634.1 L189.2,640.5 L191.7,634.1 L194.2,623.4 L196.4,622.6 L198.2,634.1 L200.6,637.6 L203.5,635.8 L205.3,641.2 L207.8,638.3 L210.6,644.0 L213.1,639.4 L215.6,635.8 L217.8,626.9 L220.3,620.9 L222.8,622.6 L224.9,628.7 L227.4,630.5 L229.9,621.6 L232.0,612.7 L234.5,616.2 L237.0,623.4 L240.6,626.2 L244.2,626.9 L246.3,619.8 L248.8,614.4 L250.6,618.0 L252.4,638.3 L254.9,632.3 L257.7,630.5 L260.6,632.3 L263.1,636.9 L264.9,636.9 L267.0,626.9 L268.4,619.8 L270.6,618.0 L272.0,598.4 L274.1,580.5 L276.6,573.4 L279.1,578.8 L280.9,587.7 L282.7,581.3 L284.1,584.8 L285.6,596.6 L288.1,594.8 L289.8,584.1 L292.7,578.0 L294.8,584.1 L297.0,594.8 L299.8,596.6 L302.3,594.1 L304.8,596.6 L307.7,600.2 L309.5,612.7 L311.2,626.9 L314.1,634.8 L317.0,635.8 L320.2,632.3 L322.7,632.3 L324.8,623.4 L327.7,618.0 L329.8,622.6 L331.9,627.6 L335.5,625.1 L339.1,624.1 L342.6,626.9 L345.1,626.9 L347.6,619.8 L349.8,610.9 L351.9,604.8 L355.5,604.8 L357.6,600.2 L359.4,594.1 L363.0,592.0 L364.8,591.2 L366.2,573.4 L367.6,566.3 L371.2,568.1 L373.0,552.0 L375.5,541.3 L378.3,539.5 L380.8,543.1 L383.3,544.9 L386.2,530.6 L389.0,516.3 L391.5,507.4 L394.0,513.5 L396.9,515.6 L399.7,515.6 L401.1,522.7 L403.3,516.3 L405.8,493.1 L409.4,478.9 L412.9,464.6 L414.7,450.3 L417.6,446.8 L419.0,453.9 L421.1,445.0 L423.6,440.7 L426.3,439.2 L428.3,430.0 L430.3,415.8 L430.7,409.6 L433.8,408.6 L435.2,401.5 L436.5,387.2 L437.9,375.0 L439.9,367.9 L444.0,363.8 L448.1,364.4 L449.7,358.7 L450.7,340.4 L452.1,335.9 L453.6,340.4 L454.8,347.5 L458.3,346.5 L460.3,350.6 L461.7,360.7 L463.3,373.0 L464.6,393.8 L466.4,423.6 L467.3,407.5 L470.3,406.4 L471.9,416.7 L473.3,432.7 L474.4,457.9 L476.0,484.3 L477.4,460.2 L478.3,429.3 L480.2,427.0 L482.0,432.7 L483.8,446.5 L485.7,453.4 L488.0,455.6 L489.8,446.5 L491.6,425.8 L493.9,414.4 L496.7,415.5 L499.0,421.3 L500.8,425.8 L503.1,421.3 L505.8,423.6 L508.6,427.0 L510.4,419.0 L511.8,407.5 L513.2,405.2 L514.6,414.4 L515.9,437.3 L517.3,457.9 L518.7,463.7 L521.0,460.2 L524.2,457.9 L528.3,456.8 L531.1,451.1 L532.9,437.3 L534.5,421.3 L535.6,402.9 L536.8,397.2 L537.9,407.5 L539.3,422.4 L542.5,421.7 L544.4,423.6 L546.0,432.7 L547.6,453.4 L548.9,476.3 L550.3,499.2 L551.7,509.5 L553.1,494.6 L554.4,486.6 L556.3,490.0 L558.6,494.6 L560.4,501.5 L562.0,510.7 L563.6,513.0 L565.0,504.9 L567.3,501.5 L570.0,500.3 L571.9,492.3 L573.5,486.6 L576.4,485.9 L578.3,478.6 L580.3,475.1 L582.6,478.6 L584.2,486.6 L587.2,485.9 L590.2,487.7 L592.0,480.9 L593.4,471.7 L595.2,468.3 L597.5,468.3 L599.4,476.3 L600.7,490.0 L602.1,504.9 L604.0,513.0 L606.2,515.2 L608.5,511.8 L610.4,501.5 L612.2,493.5 L614.7,490.0 L617.7,488.9 L620.0,492.3 L622.3,499.2 L624.1,504.9 L626.0,510.7 L627.8,514.1 L629.2,508.4 L630.3,505.6 L631.5,517.5 L633.1,524.0 L635.4,524.9 L638.3,523.3 L640.6,519.8 L642.9,519.4 L644.3,526.7 L645.7,530.1 L646.8,517.5 L648.0,506.1 L649.3,511.8 L650.7,519.8 L652.1,510.7 L653.7,501.5 L655.3,494.6 L657.1,492.3 L659.0,491.9 L660.3,499.2 L661.3,471.7 L662.2,425.8 L663.1,393.8 L664.0,393.0 L665.5,382.8 L668.5,385.8 L671.6,384.4 L674.6,387.9 L677.7,388.9 L679.7,380.7 L681.8,370.6 L684.4,364.4 L686.9,368.5 L688.9,376.7 L690.9,383.8 L694.0,387.9 L696.6,383.8 L699.1,377.7 L701.1,380.7 L704.2,383.8 L706.8,382.8 L709.3,372.6 L711.7,369.5 L713.8,374.6 L715.4,386.9 L717.0,398.1 L719.5,399.1 L722.5,395.4 L725.2,398.1 L726.6,407.2 L728.0,421.5 L729.6,427.6 L731.7,421.5 L733.3,429.6 L735.8,433.7 L738.8,429.6 L740.9,421.5 L742.9,411.3 L744.9,409.3 L747.0,417.4 L749.0,427.6 L751.0,430.7 L753.1,421.5 L754.5,420.5 L756.5,427.6 L759.2,426.6 L761.8,427.6 L763.9,435.8 L765.9,445.9 L768.4,452.1 L771.4,448.0 L774.5,445.9 L776.1,447.0 L777.5,437.8 L779.6,445.9 L782.6,448.0 L785.7,445.9 L787.1,439.8 L790.8,438.8 L792.8,441.9 L794.4,454.1 L795.9,472.4 L797.3,490.8 L798.9,499.9 L800.1,506.9 L801.9,512.2 L804.1,501.5 L805.7,509.6 L807.8,521.6 L809.4,514.9 L811.6,504.2 L813.2,499.9 L815.6,494.8 L819.3,492.8 L822.4,488.7 L825.4,480.6 L827.4,470.4 L829.5,454.1 L831.1,437.8 L832.5,432.7 L834.6,437.8 L836.6,445.9 L838.7,447.0 L840.7,441.9 L842.7,433.7 L844.8,427.6 L847.8,424.6 L850.9,423.5 L852.9,435.8 L855.0,434.7 L857.0,433.7 L859.2,450.7 L860.8,469.4 L861.9,481.5 L863.5,469.4 L866.1,466.8 L869.6,468.1 L872.3,461.4 L874.4,459.3 L876.8,464.1 L879.5,470.8 L883.0,477.5 L884.9,490.8 L886.5,509.6 L888.6,522.9 L890.5,539.0 L892.4,563.1 L893.7,587.1 L895.0,603.2 L897.2,600.5 L899.0,599.2 L900.4,605.9 L901.7,616.6 L903.1,589.8 L904.4,564.4 L905.7,575.1 L908.4,573.8 L911.1,572.4 L913.2,583.1 L915.1,559.0 L917.0,556.4 L919.6,559.0 L921.8,565.7 L923.9,575.1 L925.8,580.4 L928.5,576.4 L931.2,573.8 L935.2,572.4 L937.8,570.6 L940.0,579.1 L941.9,573.2 L945.3,571.6 L948.0,571.1 L949.1,555.0 L951.2,549.1 L954.4,549.7 L957.1,555.0 L959.2,565.7 L960.8,581.8 L961.9,599.2 L964.1,588.5 L967.3,587.7 L971.3,587.7 L974.0,589.8 L975.8,599.2 L977.4,603.7 L979.3,585.8 L980.6,600.5 L982.2,603.7 L983.9,600.5 L986.5,601.9 L988.7,613.9 L990.0,627.3 L991.9,637.4 L994.0,632.6 L996.7,627.3 L999.4,619.2 L1002.0,612.6 L1004.2,610.7 L1006.9,617.9 L1009.5,616.6 L1011.7,605.9 L1014.1,602.7 L1016.0,607.2 L1018.1,617.9 L1020.8,625.1 L1024.0,624.6 L1026.7,617.9 L1029.3,608.5 L1031.5,597.8 L1033.6,585.8 L1036.3,576.4 L1038.2,575.1 L1040.0,576.4 L1040.2,577.8 L1042.0,569.7 L1044.7,567.9 L1046.6,568.4 L1048.2,577.8 L1050.1,579.1 L1051.9,571.1 L1053.5,562.5 L1055.4,560.9 L1058.1,563.1 L1061.6,567.1 L1064.2,575.1 L1066.1,587.1 L1068.0,603.2 L1070.1,613.4 L1072.3,617.1 L1074.4,615.2 L1076.0,607.2 L1079.5,605.3 L1083.0,603.2 L1086.2,603.7 L1088.9,603.2 L1090.5,609.9 L1092.1,613.4 L1094.7,609.9 L1097.4,601.9 L1100.1,596.5 L1103.6,595.7 L1104.9,584.5 L1106.2,572.4 L1108.9,573.2 L1112.9,573.8 L1116.1,574.3 L1118.3,570.6 L1121.0,568.4 L1123.1,560.4 L1124.7,552.4 L1126.3,557.7 L1127.9,564.4 L1130.6,571.1 L1132.2,584.5 L1134.3,587.7 L1137.0,587.1 L1138.6,597.8 L1140.2,601.9 L1142.4,597.8 L1145.6,592.5 L1149.0,581.8 L1151.7,571.1 L1154.4,566.3 L1156.3,569.7 L1157.3,584.5 L1158.9,589.3 L1161.6,590.3 L1164.3,593.8 L1167.0,600.5 L1169.1,608.5 L1171.8,608.0 L1173.9,600.5 L1175.0,573.8 L1176.6,547.0 L1178.5,528.3 L1181.2,520.3 L1183.0,506.9 L1185.2,489.5 L1187.8,482.8 L1190.0,466.8 L1191.0,450.7 L1192.7,460.1 L1194.5,469.4 L1197.2,482.8 L1199.1,497.5 L1201.2,500.2 L1204.4,493.5 L1206.6,490.3 L1208.7,494.8 L1210.6,488.2 L1211.9,477.5 L1213.5,484.1 L1215.1,494.8 L1217.3,497.5 L1218.9,493.5 L1219.9,472.1 L1221.3,453.4 L1224.0,454.7 L1226.6,448.0 L1229.3,449.4 L1232.0,445.4 L1234.7,447.5 L1236.5,457.4 L1237.4,440.4 L1238.2,415.9 L1239.4,404.7 L1241.5,413.9 L1243.9,414.9 L1245.9,405.8 L1248.0,396.6 L1251.0,395.2 L1253.1,399.6 L1255.1,405.8 L1257.8,409.8 L1259.2,397.6 L1260.2,383.3 L1261.2,375.2 L1263.3,381.3 L1264.3,363.0 L1265.3,347.7 L1268.4,347.1 L1272.4,346.7 L1274.1,350.7 L1274.9,371.1 L1276.1,391.5 L1277.5,403.7 L1279.6,406.8 L1280.6,391.5 L1281.6,377.2 L1283.6,369.1 L1286.7,364.0 L1289.8,366.0 L1291.2,369.1 L1292.8,358.9 L1294.8,351.8 L1297.3,349.7 L1299.3,354.8 L1301.0,369.1 L1302.6,395.6 L1304.0,424.1 L1305.0,440.4 L1307.1,436.3 L1309.1,440.4 L1311.1,452.6 L1313.2,462.8 L1315.2,464.8 L1316.9,452.6 L1318.3,436.3 L1320.3,430.2 L1323.4,430.2 L1325.0,440.4 L1326.4,452.6 L1328.5,456.7 L1330.5,452.6 L1332.5,446.5 L1334.6,450.6 L1338.7,453.6 L1340.0,453.5 L1343.6,455.3 L1346.2,449.9 L1348.9,426.8 L1351.1,407.1 L1354.3,404.5 L1357.8,403.6 L1361.0,400.9 L1362.3,410.7 L1362.8,435.7 L1363.5,448.2 L1365.9,458.9 L1367.6,474.0 L1370.3,471.3 L1373.9,464.2 L1377.5,469.6 L1380.1,487.4 L1382.8,485.6 L1384.6,458.9 L1386.0,438.3 L1388.2,437.5 L1389.9,458.9 L1391.7,435.7 L1393.5,433.9 L1395.3,444.6 L1397.1,467.8 L1399.2,476.7 L1401.5,469.6 L1404.2,458.9 L1406.9,457.1 L1407.8,470.4 L1409.6,457.1 L1411.3,455.3 L1414.0,458.9 L1417.6,459.7 L1419.4,469.6 L1422.9,480.3 L1425.6,497.2 L1428.3,497.2 L1431.0,478.5 L1433.6,464.2 L1436.0,461.5 L1437.7,471.3 L1439.0,492.7 L1440.2,515.9 L1441.3,531.1 L1445.2,531.1 L1446.5,540.0 L1447.2,554.4 L1450.0,546.4 L1452.0,558.5 L1454.1,568.8 L1456.1,572.2 L1459.2,571.6 L1462.7,570.5 L1465.1,567.1 L1467.2,572.9 L1468.5,575.7 L1470.6,561.9 L1472.0,554.4 L1474.7,556.8 L1477.5,561.9 L1479.9,555.7 L1482.3,559.2 L1484.4,564.7 L1486.4,555.0 L1488.5,560.2 L1491.2,561.9 L1493.6,554.4 L1496.0,553.3 L1498.1,561.9 L1499.8,565.4 L1501.6,548.2 L1504.0,539.6 L1505.7,544.7 L1507.1,568.8 L1508.4,591.2 L1511.2,594.6 L1513.2,613.5 L1516.0,630.7 L1518.8,642.8 L1520.8,644.5 L1522.9,635.9 L1525.6,639.3 L1528.0,646.2 L1530.4,658.2 L1532.5,675.4 L1533.9,694.4 L1536.0,687.5 L1538.4,685.8 L1540.8,688.5 L1543.5,695.4 L1546.3,685.8 L1548.7,687.5 L1551.1,690.9 L1553.8,678.9 L1557.3,677.2 L1560.0,678.9 L1564.2,673.7 L1566.9,663.4 L1570.4,662.7 L1572.8,668.6 L1575.2,673.7 L1578.6,671.3 L1581.4,670.3 L1584.1,675.4 L1586.5,690.9 L1588.9,689.9 L1591.0,703.0 L1594.4,704.7 L1598.6,706.4 L1602.0,704.7 L1605.4,703.0 L1607.5,701.2 L1608.9,689.2 L1611.6,686.8 L1615.1,689.2 L1617.5,699.5 L1619.9,706.4 L1622.6,708.1 L1625.4,703.6 L1627.8,706.4 L1631.2,708.1 L1633.0,727.0 L1634.7,742.5 L1637.4,743.6 L1639.2,754.6 L1641.6,759.7 L1644.0,756.3 L1645.3,728.8 L1647.4,726.4 L1650.2,727.0 L1651.9,744.2 L1654.3,749.4 L1656.4,740.8 L1658.8,739.1 L1662.2,740.1 L1667.4,740.8 L1672.5,741.5 L1676.0,738.0 L1679.4,739.1 L1682.8,735.6 L1686.3,735.6 L1688.7,740.8 L1693.2,741.8 L1696.6,740.8 L1698.7,737.4 L1699.7,715.0 L1700.3,715.0 L1703.8,713.3 L1706.5,706.4 L1709.3,705.7 L1711.3,711.6 L1714.8,713.3 L1719.2,710.5 L1722.7,706.4 L1724.4,703.0 L1727.2,707.4 L1730.6,706.4 L1734.7,707.4 L1738.8,706.4 L1740.9,700.2 L1745.0,698.8 L1750.2,698.8 L1753.6,699.5 L1757.1,702.3 L1761.6,703.0 L1764.3,702.3 L1766.4,709.2 L1768.4,705.7 L1771.9,705.7 L1775.3,704.7 L1776.7,685.8 L1777.7,647.9 L1779.4,644.5 L1782.2,642.8 L1783.6,620.4 L1786.3,618.7 L1788.4,617.0 L1789.8,599.8 L1791.8,582.6 L1793.9,579.8 L1796.0,586.0 L1798.4,591.2 L1801.8,594.6 L1804.2,595.6 L1806.3,586.0 L1807.6,565.4 L1809.7,561.2 L1812.1,562.6 L1814.5,572.2 L1817.3,575.7 L1819.3,584.3 L1822.1,586.7 L1824.8,584.3 L1827.6,581.9 L1829.7,584.3 L1831.0,596.3 L1833.1,606.6 L1835.2,603.2 L1837.2,592.9 L1839.6,589.4 L1843.1,591.2 L1846.5,590.1 L1850.0,588.8 L1853.4,591.2 L1855.1,586.0 L1856.5,572.2 L1859.2,569.8 L1861.3,571.6 L1862.7,584.3 L1867.2,586.0 L1870.6,586.0 L1874.0,589.4 L1876.4,588.8 L1879.2,582.6 L1882.6,581.9 L1885.4,580.8 L1886.8,567.1 L1889.5,565.4 L1893.0,566.0 L1895.7,568.1 L1899.2,565.4 L1901.6,567.1 L1904.0,574.0 L1906.7,584.3 L1909.5,587.7 L1911.9,580.8 L1915.3,574.0 L1918.8,572.2 L1921.2,577.4 L1922.5,592.9 L1923.9,602.5 L1927.4,602.5 L1930.1,594.6 L1932.9,592.9 L1934.9,586.0 L1937.7,591.2 L1939.7,582.6 L1941.8,568.8 L1944.6,563.6 L1946.6,551.6 L1948.7,544.0 L1951.4,543.0 L1954.2,547.5 L1955.9,549.9 L1958.2,568.9 L1961.7,570.4 L1964.1,580.6 L1967.0,583.6 L1969.0,582.1 L1971.1,586.5 L1974.9,588.0 L1977.8,585.9 L1980.8,585.0 L1983.7,589.4 L1986.6,592.4 L1989.6,588.0 L1993.4,589.4 L1996.3,590.0 L1999.2,589.4 L2001.3,598.2 L2002.7,607.6 L2005.1,615.8 L2007.1,626.9 L2010.1,627.5 L2012.1,633.4 L2013.3,642.8 L2015.0,644.5 L2017.4,636.3 L2019.7,618.7 L2022.1,607.0 L2024.7,602.0 L2027.6,601.1 L2031.5,602.6 L2035.0,605.5 L2037.9,606.4 L2041.4,605.5 L2044.3,602.6 L2046.1,592.4 L2049.6,591.8 L2052.5,593.8 L2054.3,604.1 L2056.1,608.5 L2059.0,607.0 L2060.8,592.4 L2062.5,579.2 L2065.7,578.3 L2068.7,577.7 L2070.1,589.4 L2073.1,590.0 L2076.6,589.4 L2080.4,588.8 L2082.4,583.6 L2085.4,582.1 L2087.7,583.0 L2090.6,586.5 L2093.0,588.0 L2094.7,574.8 L2098.0,574.2 L2100.0,573.3 L2101.2,551.3 L2103.8,548.4 L2105.3,546.9 L2106.8,527.9 L2108.2,519.7 L2111.1,518.5 L2114.7,517.6 L2118.5,518.5 L2121.4,519.1 L2124.3,516.2 L2128.1,513.8 L2131.7,512.7 L2135.2,511.8 L2136.3,489.8 L2139.0,486.9 L2141.9,486.3 L2143.4,457.6 L2144.8,451.7 L2149.9,416.0 L2152.4,411.8 L2154.8,421.1 L2157.5,422.8 L2161.6,412.5 L2166.1,391.9 L2170.6,391.2 L2174.7,385.0 L2177.5,382.3 L2179.9,390.2 L2183.3,393.6 L2185.0,402.2 L2188.5,403.9 L2190.5,378.1 L2192.9,373.0 L2195.3,376.4 L2197.4,397.1 L2201.5,400.5 L2203.2,422.8 L2205.7,428.0 L2209.1,441.8 L2213.2,442.8 L2216.0,422.8 L2219.4,420.1 L2221.1,398.8 L2223.5,397.1 L2226.3,403.9 L2229.0,415.3 L2231.8,410.8 L2233.9,398.8 L2236.6,367.8 L2239.4,347.2 L2242.8,342.0 L2245.2,330.0 L2245.8,305.7 L2248.3,303.9 L2249.9,301.9 L2250.9,276.4 L2251.9,251.0 L2253.4,247.9 L2255.0,251.0 L2256.5,240.8 L2258.0,232.6 L2260.1,230.6 L2262.1,231.8 L2263.1,240.8 L2264.4,248.4 L2266.9,247.1 L2268.7,251.0 L2270.3,267.5 L2272.3,269.3 L2274.6,268.8 L2275.9,276.4 L2277.4,280.3 L2279.7,282.0 L2281.5,276.4 L2283.0,272.6 L2284.5,276.4 L2286.1,284.1 L2288.1,291.7 L2290.1,299.4 L2292.2,303.2 L2293.2,317.2 L2294.2,328.7 L2295.7,331.2 L2298.3,329.9 L2300.8,327.4 L2301.8,314.6 L2302.9,298.1 L2304.4,294.3 L2305.9,296.8 L2306.9,307.0 L2308.0,276.4 L2309.0,238.2 L2310.0,221.7 L2311.5,220.4 L2313.6,221.7 L2315.4,226.8 L2316.6,233.1 L2318.7,229.3 L2319.7,233.1 L2320.7,263.7 L2321.7,286.6 L2322.7,293.0 L2324.3,286.6 L2326.3,266.2 L2327.8,256.1 L2329.9,254.8 L2331.4,257.3 L2333.2,265.0 L2335.0,270.1 L2337.0,273.9 L2339.0,286.6 L2340.1,291.7 L2341.6,279.0 L2343.4,272.6 L2345.2,273.9 L2347.2,279.0 L2349.2,286.6 L2351.3,295.5 L2352.8,298.1 L2353.8,286.6 L2354.8,272.6 L2355.9,276.4 L2356.9,291.7 L2358.7,294.8 L2361.2,296.3 L2363.0,301.9 L2365.0,301.4 L2367.6,299.4 L2370.1,298.9 L2372.2,301.4 L2374.7,299.9 L2377.3,298.1 L2379.8,294.8 L2381.8,289.2 L2383.4,281.5 L2384.9,266.2 L2386.4,245.9 L2388.0,235.2 L2390.0,234.4 L2392.0,238.2 L2394.1,244.6 L2395.6,254.8 L2396.9,263.7 L2398.2,256.1 L2399.7,248.4 L2402.0,247.1 L2403.8,249.7 L2405.8,261.1 L2407.8,276.4 L2409.4,289.2 L2411.4,299.4 L2412.9,303.2 L2414.5,314.6 L2416.0,319.7 L2418.0,317.7 L2419.6,317.7 L2421.1,324.8 L2423.6,329.4 L2425.2,335.0 L2426.2,344.7 L2427.1,344.8 L2429.3,332.3 L2431.4,329.8 L2434.3,331.2 L2437.1,328.7 L2438.5,302.0 L2440.7,277.0 L2443.5,268.1 L2446.4,266.3 L2448.5,269.9 L2451.4,266.3 L2454.2,264.6 L2455.7,255.7 L2457.1,239.6 L2458.5,237.8 L2459.9,255.7 L2462.1,268.1 L2464.9,270.6 L2466.3,284.2 L2467.8,327.0 L2469.2,369.7 L2470.6,391.1 L2472.8,392.9 L2474.2,376.9 L2475.3,337.6 L2477.0,316.3 L2479.9,314.5 L2482.0,327.0 L2484.9,344.8 L2487.7,360.8 L2490.6,373.3 L2493.4,369.7 L2496.3,360.8 L2499.1,353.7 L2501.3,359.0 L2503.8,371.5 L2505.6,376.1 L2507.7,368.0 L2510.9,361.9 L2514.5,359.0 L2518.0,356.2 L2519.8,334.1 L2521.2,318.0 L2522.7,327.0 L2524.8,326.2 L2527.0,327.0 L2528.7,343.0 L2530.5,353.7 L2532.7,359.0 L2534.8,371.5 L2537.6,372.6 L2541.2,372.6 L2544.1,369.7 L2547.6,369.7 L2549.4,376.9 L2550.8,405.4 L2552.6,441.0 L2554.0,469.6 L2555.5,448.2 L2557.3,446.4 L2559.0,455.3 L2561.2,442.8 L2563.3,441.0 L2565.5,446.4 L2566.9,433.9 L2568.3,412.5 L2570.4,407.2 L2572.6,414.3 L2574.0,430.3 L2576.1,439.3 L2578.6,441.0 L2581.1,443.9 L2582.6,462.4 L2584.0,476.7 L2587.6,477.4 L2590.4,480.2 L2592.9,484.5" fill="none" stroke="#e9b64d" stroke-width="3.8" stroke-linejoin="round"/>
<g class="ax" text-anchor="end" letter-spacing="0.35"><text x="128.2" y="192.1">18.00M</text><text x="128.2" y="286.9">17.00M</text><text x="128.2" y="382.4">16.00M</text><text x="128.2" y="477.8">15.00M</text><text x="128.2" y="573.3">14.00M</text><text x="128.2" y="668.7">13.00M</text><text x="128.2" y="764.2">12.00M</text><text x="128.2" y="791.5">11.71M</text></g>
<g class="ax"><text x="2612" y="192.1">$5.00K</text><text x="2612" y="273.1">$4.50K</text><text x="2612" y="354.6">$4.00K</text><text x="2612" y="436.1">$3.50K</text><text x="2612" y="517.6">$3.00K</text><text x="2612" y="599.0">$2.50K</text><text x="2612" y="680.5">$2.00K</text><text x="2612" y="762.0">$1.50K</text></g>
<g class="ax" text-anchor="middle"><text x="144.5" y="819">28 Nov</text><text x="244.0" y="819">1 Jan</text><text x="343.5" y="819">5 Feb</text><text x="443.1" y="819">9 Mar</text><text x="542.6" y="819">11 Apr</text><text x="642.1" y="819">14 May</text><text x="741.6" y="819">16 Jun</text><text x="841.1" y="819">19 Jul</text><text x="940.7" y="819">21 Aug</text><text x="1040.2" y="819">23 Sep</text><text x="1139.7" y="819">26 Oct</text><text x="1239.2" y="819">28 Nov</text><text x="1338.8" y="819">31 Dec</text><text x="1438.3" y="819">2 Feb</text><text x="1537.8" y="819">12 Mar</text><text x="1637.3" y="819">8 Apr</text><text x="1736.8" y="819">1 May</text><text x="1836.4" y="819">19 May</text><text x="1935.9" y="819">9 Jun</text><text x="2035.4" y="819">26 Jun</text><text x="2134.9" y="819">15 Jul</text><text x="2234.4" y="819">7 Aug</text><text x="2334.0" y="819">28 Aug</text><text x="2433.5" y="819">29 Sep</text><text x="2533.0" y="819">30 Oct</text></g>
<rect x="148" y="824.7" width="2452" height="11.3" fill="#eaedf8"/><rect x="148" y="824.7" width="2452" height="1.6" fill="#e9eaf4"/>
</svg>
</body></html>
